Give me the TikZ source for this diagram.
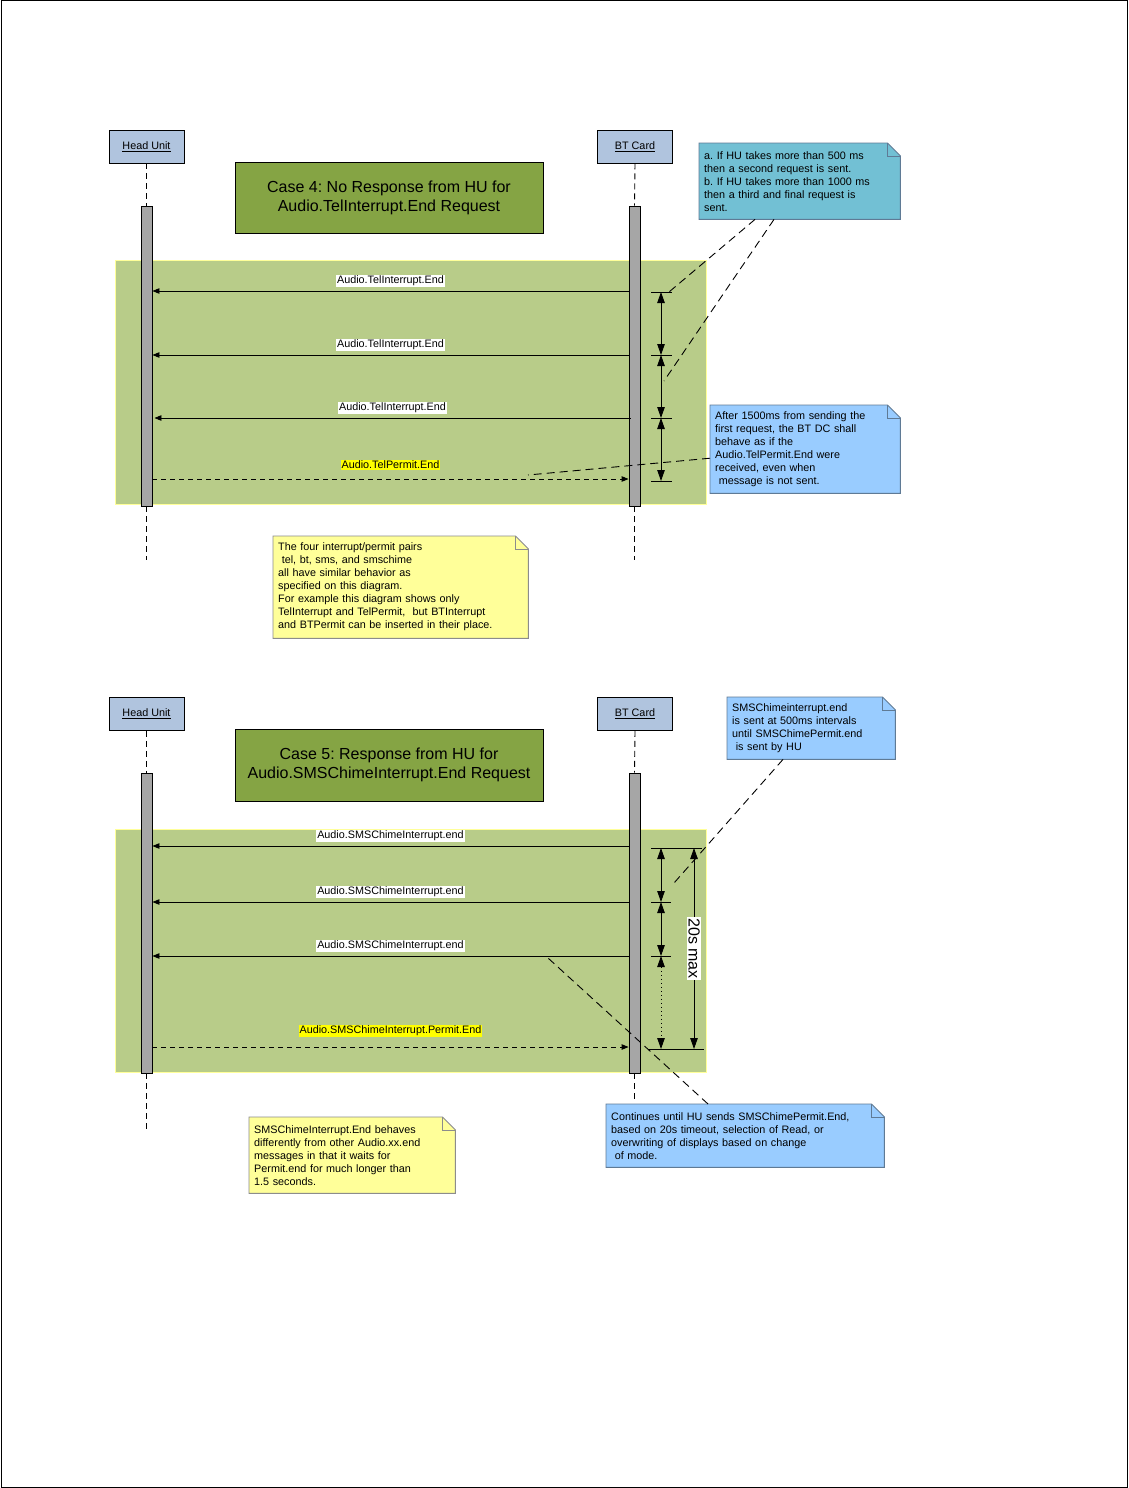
\documentclass[tikz,border=0pt]{standalone}
\usepackage{fontspec}
\setmainfont{Liberation Sans}
\usetikzlibrary{arrows.meta,backgrounds}
\frenchspacing
\definecolor{lifeblue}{HTML}{B0C4DE}
\definecolor{bargray}{HTML}{A6A6A6}
\definecolor{titlegreen}{HTML}{85A444}
\definecolor{regiongreen}{HTML}{B8CC89}
\definecolor{regionedge}{HTML}{FFFF99}
\definecolor{notecyan}{HTML}{72C0D4}
\definecolor{noteblue}{HTML}{99CCFF}
\definecolor{noteyellow}{HTML}{FFFF99}
\definecolor{blueedge}{HTML}{5F7A95}
\definecolor{yellowedge}{HTML}{8C8C8C}
\definecolor{permityellow}{HTML}{FFFF00}
\newcommand\foldnote[3]{%
  \filldraw[fill=#2, draw=#3, line width=0.9pt] (#1.north west) -- ([xshift=-13pt]#1.north east) -- ([yshift=-13pt]#1.north east) -- (#1.south east) -- (#1.south west) -- cycle;
  \draw[draw=#3, line width=0.6pt] ([xshift=-13pt]#1.north east) -- ([xshift=-13pt,yshift=-13pt]#1.north east) -- ([yshift=-13pt]#1.north east);
}
\begin{document}
\begin{tikzpicture}[x=1pt,y=-1pt,
  smallfont/.style={font=\fontsize{10.8}{13}\selectfont},
  lifebox/.style={draw, line width=0.9pt, fill=lifeblue, minimum width=75pt, minimum height=33pt, inner sep=0pt, smallfont},
  actbar/.style={draw, line width=0.9pt, fill=bargray, minimum width=11pt, minimum height=300pt, inner sep=0pt},
  lifeline/.style={line width=0.9pt, dash pattern=on 6pt off 4pt},
  msg/.style={line width=0.9pt, -{Triangle[length=7pt,width=5.5pt]}},
  permit/.style={msg, dash pattern=on 5pt off 4pt},
  lbl/.style={fill=white, inner sep=0.8pt, smallfont},
  plbl/.style={lbl, fill=permityellow},
  titlebox/.style={draw, line width=0.9pt, fill=titlegreen, minimum width=308pt, minimum height=71pt, align=center, inner sep=0pt, font=\fontsize{16}{19.5}\selectfont},
  region/.style={fill=regiongreen, draw=regionedge, line width=1.2pt, inner sep=0pt, anchor=north west},
  dimarr/.style={line width=0.9pt, {Triangle[length=11pt,width=7.5pt]}-{Triangle[length=11pt,width=7.5pt]}},
  tickline/.style={line width=0.9pt},
  notelink/.style={line width=0.9pt, dash pattern=on 8pt off 5pt},
  note/.style={anchor=north west, inner xsep=5pt, inner ysep=0pt, align=left, smallfont}
]
\useasboundingbox (0,0) rectangle (1128,1488);
\draw[line width=1pt] (1,1) rectangle (1127,1487);

% ===================== Case 4 =====================
\node[region, minimum width=591pt, minimum height=244pt] (r1) at (115,260) {};
\node[titlebox] (t4) at (389,198) {Case 4: No Response from HU for\\Audio.TelInterrupt.End Request};
\node[lifebox] (hu1) at (146.5,146.5) {\underline{Head Unit}};
\node[lifebox] (bt1) at (635,146.5) {\underline{BT Card}};
\node[actbar] (hub1) at (146.5,356) {};
\node[actbar] (btb1) at (634.5,356) {};
\coordinate (hu1end) at (146.5,560);
\coordinate (bt1end) at (634.5,560);
\draw[lifeline] (hu1.south) -- (hub1.north);
\draw[lifeline] (hub1.south) -- (hu1end);
\draw[lifeline] (bt1.south) -- (btb1.north);
\draw[lifeline] (btb1.south) -- (bt1end);

\draw[msg] (btb1.west |- 0,291) -- node[lbl, above=4pt] {Audio.TelInterrupt.End} (hub1.east |- 0,291);
\draw[msg] (btb1.west |- 0,355) -- node[lbl, above=4pt] {Audio.TelInterrupt.End} (hub1.east |- 0,355);
\draw[msg] ([xshift=2pt]btb1.west |- 0,418) -- node[lbl, above=4pt] {Audio.TelInterrupt.End} ([xshift=2pt]hub1.east |- 0,418);
\draw[permit] (hub1.east |- 0,479) -- node[plbl, above=9pt] {Audio.TelPermit.End} (btb1.west |- 0,479);

\coordinate (a1) at (661,292);
\coordinate (a2) at (661,355);
\coordinate (a3) at (661,418);
\coordinate (a4) at (661,481);
\foreach \c in {a1,a2,a3,a4} \draw[tickline] ([xshift=-10pt]\c) -- ([xshift=11pt]\c);
\draw[dimarr] (a1) -- (a2);
\draw[dimarr] (a2) -- (a3);
\draw[dimarr] (a3) -- (a4);

\node[note, minimum width=201pt, minimum height=76pt, text width=191pt] (cyan) at (699,143)
  {a. If HU takes more than 500 ms\\then a second request is sent.\\b. If HU takes more than 1000 ms\\then a third and final request is\\sent.};
\node[note, minimum width=190pt, minimum height=88pt, text width=180pt] (blue1) at (710,405)
  {After 1500ms from sending the\\first request, the BT DC shall\\behave as if the\\Audio.TelPermit.End were\\received, even when\\\ message is not sent.};
\node[note, minimum width=255pt, minimum height=102pt, text width=245pt] (yel1) at (273,536)
  {The four interrupt/permit pairs\\\ tel, bt, sms, and smschime\\all have similar behavior as\\specified on this diagram.\\For example this diagram shows only\\TelInterrupt and TelPermit,\ \ but BTInterrupt\\and BTPermit can be inserted in their place.};

\coordinate (c1e) at (669,292);
\coordinate (c2e) at (664,381);
\coordinate (c3e) at (528,475);
\draw[notelink] ([xshift=56pt]cyan.south west) -- (c1e);
\draw[notelink] ([xshift=75pt]cyan.south west) -- (c2e);
\draw[notelink] ([yshift=-9pt]blue1.west) -- (c3e);

% ===================== Case 5 =====================
\node[region, minimum width=591pt, minimum height=243pt] (r2) at (115,829) {};
\node[titlebox, minimum height=72pt] (t5) at (389,765) {Case 5: Response from HU for\\Audio.SMSChimeInterrupt.End Request};
\node[lifebox] (hu2) at (146.5,714) {\underline{Head Unit}};
\node[lifebox] (bt2) at (635,714) {\underline{BT Card}};
\node[actbar] (hub2) at (146.5,923) {};
\node[actbar] (btb2) at (634.5,923) {};
\coordinate (hu2end) at (146.5,1130);
\coordinate (bt2end) at (634.5,1103);
\draw[lifeline] (hu2.south) -- (hub2.north);
\draw[lifeline] (hub2.south) -- (hu2end);
\draw[lifeline] (bt2.south) -- (btb2.north);
\draw[lifeline] (btb2.south) -- (bt2end);

\draw[msg] (btb2.west |- 0,846) -- node[lbl, above=4pt] {Audio.SMSChimeInterrupt.end} (hub2.east |- 0,846);
\draw[msg] (btb2.west |- 0,902) -- node[lbl, above=4pt] {Audio.SMSChimeInterrupt.end} (hub2.east |- 0,902);
\draw[msg] (btb2.west |- 0,956) -- node[lbl, above=4pt] {Audio.SMSChimeInterrupt.end} (hub2.east |- 0,956);
\draw[permit] (hub2.east |- 0,1047) -- node[plbl, above=10pt] {Audio.SMSChimeInterrupt.Permit.End} (btb2.west |- 0,1047);

\coordinate (b1) at (661,848);
\coordinate (b2) at (661,902);
\coordinate (b3) at (661,956);
\coordinate (b4) at (661,1049);
\coordinate (m1) at (694,848);
\coordinate (m2) at (694,1049);
\draw[tickline] ([xshift=-10pt]b1) -- ([xshift=8pt]m1);
\draw[tickline] ([xshift=-10pt]b2) -- ([xshift=10pt]b2);
\draw[tickline] ([xshift=-10pt]b3) -- ([xshift=10pt]b3);
\draw[tickline] ([xshift=-13pt]b4) -- ([xshift=10pt]m2);
\draw[dimarr] (b1) -- (b2);
\draw[dimarr] (b2) -- (b3);
\draw[dimarr, dash pattern=on 1pt off 3pt] (b3) -- (b4);
\draw[dimarr] (m1) -- node[fill=white, inner sep=1pt, rotate=-90, font=\fontsize{16}{19}\selectfont] {20s max} (m2);

\node[note, minimum width=168pt, minimum height=62pt, text width=158pt] (blue2) at (727,697)
  {SMSChimeinterrupt.end\\is sent at 500ms intervals\\until SMSChimePermit.end\\\ is sent by HU};
\node[note, minimum width=278pt, minimum height=63pt, text width=268pt] (blue3) at (606,1104)
  {Continues until HU sends SMSChimePermit.End,\\based on 20s timeout, selection of Read, or\\overwriting of displays based on change\\\ of mode.};
\node[note, minimum width=206pt, minimum height=76pt, text width=196pt] (yel2) at (249,1117)
  {SMSChimeInterrupt.End behaves\\differently from other Audio.xx.end\\messages in that it waits for\\Permit.end for much longer than\\1.5 seconds.};

\coordinate (c4e) at (674,883);
\coordinate (c5e) at (548,958);
\draw[notelink] ([xshift=56pt]blue2.south west) -- (c4e);
\draw[notelink] ([xshift=102pt]blue3.north west) -- (c5e);

\begin{pgfonlayer}{background}
\foldnote{cyan}{notecyan}{blueedge}
\foldnote{blue1}{noteblue}{blueedge}
\foldnote{yel1}{noteyellow}{yellowedge}
\foldnote{blue2}{noteblue}{blueedge}
\foldnote{blue3}{noteblue}{blueedge}
\foldnote{yel2}{noteyellow}{yellowedge}
\end{pgfonlayer}
\end{tikzpicture}
\end{document}
